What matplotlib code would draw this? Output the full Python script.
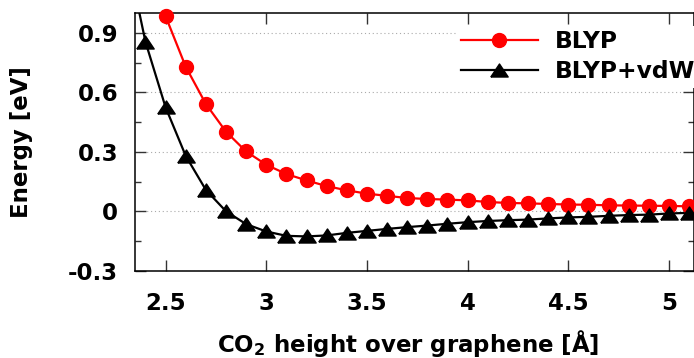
import matplotlib
matplotlib.use('Agg')
import matplotlib.pyplot as plt
import numpy as np

# BLYP (red circles)
x_blyp = [2.5, 2.6, 2.7, 2.8, 2.9, 3.0, 3.1, 3.2, 3.3, 3.4, 3.5, 3.6, 3.7, 3.8,
          3.9, 4.0, 4.1, 4.2, 4.3, 4.4, 4.5, 4.6, 4.7, 4.8, 4.9, 5.0, 5.1]
e_blyp = [0.985, 0.73, 0.542, 0.402, 0.302, 0.235, 0.188, 0.156, 0.127, 0.106,
          0.089, 0.078, 0.067, 0.062, 0.059, 0.055, 0.047, 0.042, 0.040, 0.037,
          0.034, 0.033, 0.030, 0.029, 0.028, 0.027, 0.025]

# BLYP+vdW (black triangles)
x_vdw = [2.3, 2.4, 2.5, 2.6, 2.7, 2.8, 2.9, 3.0, 3.1, 3.2, 3.3, 3.4, 3.5, 3.6,
         3.7, 3.8, 3.9, 4.0, 4.1, 4.2, 4.3, 4.4, 4.5, 4.6, 4.7, 4.8, 4.9, 5.0, 5.1]
e_vdw = [1.34, 0.856, 0.525, 0.28, 0.108, 0.0, -0.065, -0.102, -0.124, -0.127,
         -0.122, -0.109, -0.099, -0.089, -0.080, -0.072, -0.063, -0.055, -0.049,
         -0.045, -0.042, -0.036, -0.031, -0.028, -0.023, -0.019, -0.017, -0.011, -0.008]

xticks = [2.5, 3, 3.5, 4, 4.5, 5]
xticklabels = ['2.5', '3', '3.5', '4', '4.5', '5']
yticks = [-0.3, 0, 0.3, 0.6, 0.9]
yticklabels = ['-0.3', '0', '0.3', '0.6', '0.9']
yminor = [-0.15, 0.15, 0.45, 0.75]

xlim = (2.348, 5.126)
ylim = (-0.3, 1.0)

plt.rcParams['font.family'] = 'DejaVu Sans'
plt.rcParams['font.weight'] = 'bold'
plt.rcParams['font.size'] = 16.5

fig = plt.figure(figsize=(6.94, 3.58), dpi=100)
ax = fig.add_axes([0.1945, 0.2439, 0.806, 0.719])

tri = [(-1, -0.75), (1, -0.75), (0, 0.75), (-1, -0.75)]

def draw(x, y, color, marker, ms, label):
    x = np.array(x)
    y = np.array(y)
    ax.plot(x, y, color=color, lw=1.6, zorder=3)
    keep = (y >= ylim[0]) & (y <= ylim[1])
    ax.plot(x[keep], y[keep], ls='none', marker=marker, ms=ms, color=color,
            mec=color, clip_on=False, zorder=4)
    # legend proxy
    ax.plot([], [], color=color, lw=1.6, marker=marker, ms=ms, mec=color, label=label)

draw(x_blyp, e_blyp, '#ff0000', 'o', 10, 'BLYP')
draw(x_vdw, e_vdw, 'black', tri, 12.5, 'BLYP+vdW')

ax.set_xlim(*xlim)
ax.set_ylim(*ylim)
ax.set_xticks(xticks)
ax.set_xticklabels(xticklabels)
ax.set_yticks(yticks)
ax.set_yticklabels(yticklabels)
ax.set_yticks(yminor, minor=True)

ax.tick_params(which='both', direction='in', top=True, right=True, color='#333333')
ax.tick_params(which='major', length=8, width=1)
ax.tick_params(which='minor', length=4.5, width=1)
ax.tick_params(axis='x', pad=15)
ax.tick_params(axis='y', pad=12)

for s in ax.spines.values():
    s.set_linewidth(1.1)

ax.yaxis.grid(True, which='major', ls=(0, (1, 2.5)), lw=0.8, color='#aaaaaa', zorder=0)
ax.set_axisbelow(True)

ax.set_xlabel(r'CO$_\mathbf{2}$ height over graphene [Å]', fontweight='bold')
ax.xaxis.set_label_coords(0.4887, -0.222)
ax.xaxis.label.set_va('top')
ax.set_ylabel('Energy [eV]', fontweight='bold', labelpad=25)

leg = ax.legend(loc='upper left', bbox_to_anchor=(0.553, 0.997), frameon=True,
                handlelength=3.3, handletextpad=0.75, labelspacing=0.3,
                borderpad=0.2, fontsize=16.8)
leg.get_frame().set_edgecolor('none')
leg.get_frame().set_facecolor('white')
leg.get_frame().set_alpha(1)
leg.set_zorder(5)

fig.savefig('out.png', dpi=100)
